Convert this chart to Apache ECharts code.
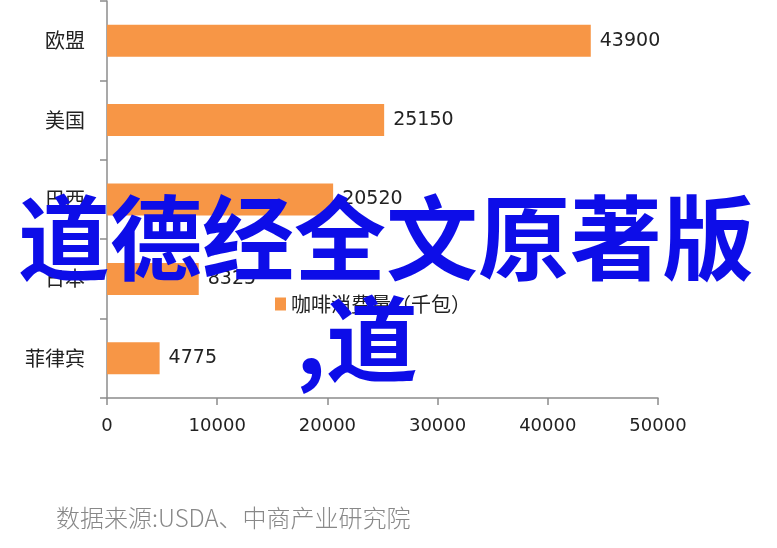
<!DOCTYPE html>
<html>
<head>
<meta charset="utf-8">
<script src="https://cdn.jsdelivr.net/npm/echarts@6/dist/echarts.min.js"></script>
<style>
  html, body { margin: 0; padding: 0; background: #fff; }
  #chart { width: 777px; height: 548px; }
</style>
</head>
<body>
<div id="chart"></div>
<script>
// 数据
var categories = ['欧盟', '美国', '巴西', '日本', '菲律宾'];
var values = [43900, 25150, 20520, 8325, 4775];
var seriesName = '咖啡消费量（千包）';
var xMin = 0, xMax = 50000, xStep = 10000;

var myChart = echarts.init(document.getElementById('chart'));
var axisColor = '#8c8c8c';
var textFont = '"DejaVu Sans", "Noto Sans CJK SC", sans-serif';

var option = {
    backgroundColor: '#fff',
    animation: false,
    grid: { left: 107, right: 119, top: 1, bottom: 150 },
    legend: {
        data: [seriesName],
        left: 270,
        top: 289,
        icon: 'rect',
        itemWidth: 11,
        itemHeight: 13,
        itemGap: 6,
        textStyle: { fontSize: 20, color: '#222', fontFamily: '"Noto Sans CJK SC", sans-serif' }
    },
    xAxis: {
        type: 'value',
        min: xMin, max: xMax, interval: xStep,
        splitLine: { show: false },
        axisLine: { show: true, lineStyle: { color: axisColor, width: 1.5 } },
        axisTick: { show: true, length: 7, lineStyle: { color: axisColor, width: 1.5 } },
        axisLabel: {
            color: '#222', fontSize: 18, margin: 19, fontFamily: textFont,
            formatter: function (v) { return String(v); }
        }
    },
    yAxis: {
        type: 'category',
        data: categories,
        inverse: true,
        axisLine: { show: true, lineStyle: { color: axisColor, width: 1.5 } },
        axisTick: { show: true, length: 7, lineStyle: { color: axisColor, width: 1.5 } },
        axisLabel: { color: '#222', fontSize: 20, margin: 22, fontFamily: '"Noto Sans CJK SC", sans-serif' }
    },
    series: [{
        name: seriesName,
        type: 'bar',
        data: values,
        barWidth: 32,
        itemStyle: { color: '#F79646' },
        label: {
            show: true,
            position: 'right',
            distance: 9,
            color: '#222',
            fontSize: 19,
            fontFamily: textFont
        }
    }],
    graphic: [
        {
            type: 'text',
            left: 56,
            top: 506,
            style: {
                text: '数据来源:USDA、中商产业研究院',
                fill: '#888',
                fontSize: 24,
                fontWeight: 300,
                fontFamily: '"Noto Sans CJK SC", sans-serif'
            }
        },
        {
            type: 'text',
            left: 18,
            top: 192,
            z: 100,
            style: {
                text: '道德经全文原著版',
                fill: '#0d0de8',
                fontSize: 92,
                fontWeight: 'bold',
                fontFamily: '"Noto Sans CJK SC", sans-serif'
            }
        },
        {
            type: 'text',
            left: 296,
            top: 293,
            z: 100,
            style: {
                text: ',道',
                fill: '#0d0de8',
                fontSize: 92,
                fontWeight: 'bold',
                fontFamily: '"Noto Sans CJK SC", sans-serif'
            }
        }
    ]
};

myChart.setOption(option);
window.addEventListener('resize', function () {
    myChart.resize();
});
</script>
</body>
</html>
